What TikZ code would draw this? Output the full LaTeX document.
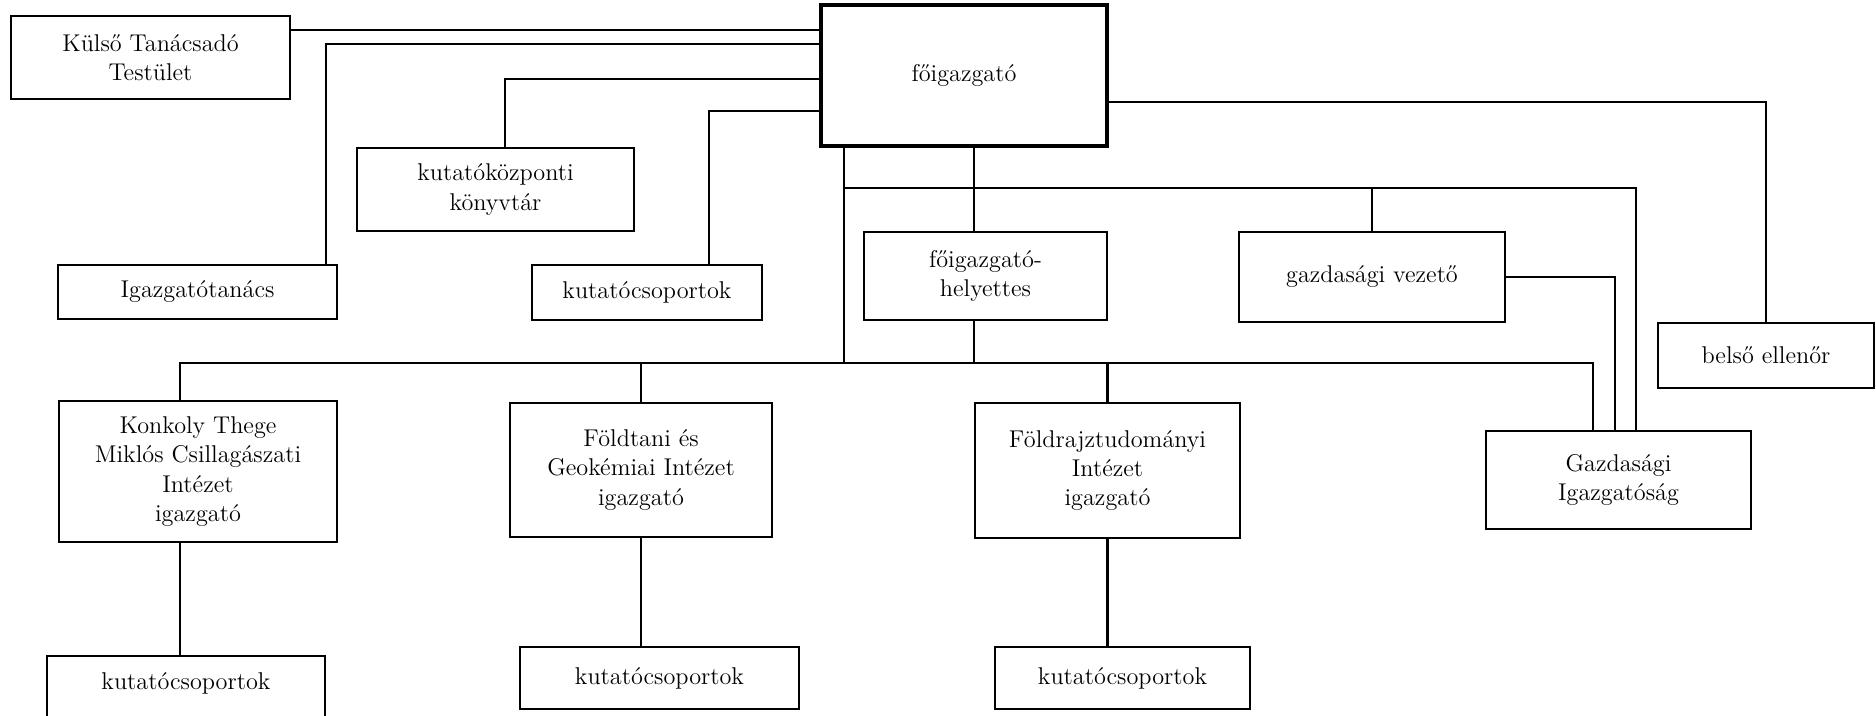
\documentclass[tikz,border=0pt]{standalone}
\usepackage{fontspec}
\usetikzlibrary{positioning}
\begin{document}
\begin{tikzpicture}[x=0.2mm,y=-0.2mm,line width=1.2pt,
	box/.style 2 args={draw,line width=1.4pt,align=center,inner sep=0pt,minimum width=#1*0.2mm,minimum height=#2*0.2mm,font=\fontsize{13.8}{16.7}\selectfont}]
				      \useasboundingbox (0,0) rectangle (1876,716);
				      \node[box={279}{83}] (kulso) at (150.5,57.5) {Külső Tanácsadó\\Testület};
				      \node[box={286}{141},line width=2pt] (fo) at (964,75.5) {főigazgató};
				      \node[box={277}{83}] (konyvt) at (495.5,189.5) {kutatóközponti\\könyvtár};
				      \node[box={279}{54}] (igtan) at (197.5,292) {Igazgatótanács};
				      \node[box={230}{55}] (kut_0) at (647,292.5) {kutatócsoportok};
				      \node[box={243}{88}] (helyettes) at (985.5,276) {főigazgató-\\helyettes};
				      \node[box={266}{90}] (gvez) at (1372,277) {gazdasági vezető};
				      \node[box={216}{65}] (belso) at (1766,355.5) {belső ellenőr};
				      \node[box={278}{141}] (konkoly) at (198,471.5) {Konkoly Thege\\Miklós Csillagászati\\Intézet\\igazgató};
				      \node[box={262}{134}] (foldt) at (641,470) {Földtani és\\Geokémiai Intézet\\igazgató};
				      \node[box={265}{135}] (foldr) at (1107.5,470.5) {Földrajztudományi\\Intézet\\igazgató};
				      \node[box={265}{98}] (gig) at (1618.5,480) {Gazdasági\\Igazgatóság};
				      \node[box={278}{80},text depth=6.1mm] (kut_1) at (186,696) {kutatócsoportok};
				      \node[box={279}{62}] (kut_2) at (659.5,678) {kutatócsoportok};
				      \node[box={255}{62}] (kut_3) at (1122.5,678) {kutatócsoportok};
				      \coordinate (mid) at (0,188);
				      \coordinate (bus) at (0,363);
				      \draw (kulso.east |- 0,30) -- (fo.west |- 0,30);
				      \draw (326,0 |- igtan.north) |- (fo.west |- 0,44);
				      \draw (505,0 |- konyvt.north) |- (fo.west |- 0,79);
				      \draw (709,0 |- kut_0.north) |- (fo.west |- 0,111);
				      \draw (fo.east |- 0,102) -| (belso.north);
				      \draw (844,0 |- fo.south) -- (844,0 |- bus);
				      \draw (974,0 |- fo.south) -- (974,0 |- helyettes.north);
				      \draw (974,0 |- helyettes.south) -- (974,0 |- bus);
				      \draw (844,0 |- mid) -| (1636,0 |- gig.north);
				      \draw (gvez.north |- mid) -- (gvez.north);
				      \draw (gvez.east) -| (1615,0 |- gig.north);
				      \draw (180,0 |- konkoly.north) |- (1593,0 |- bus) -- (1593,0 |- gig.north);
				      \draw (foldt.north |- bus) -- (foldt.north);
				      \draw (foldr.north |- bus) -- (foldr.north);
				      \draw (180,0 |- konkoly.south) -- (180,0 |- kut_1.north);
				      \draw (foldt.south) -- (foldt.south |- kut_2.north);
				      \draw (foldr.south) -- (foldr.south |- kut_3.north);
			      \end{tikzpicture}
\end{document}
